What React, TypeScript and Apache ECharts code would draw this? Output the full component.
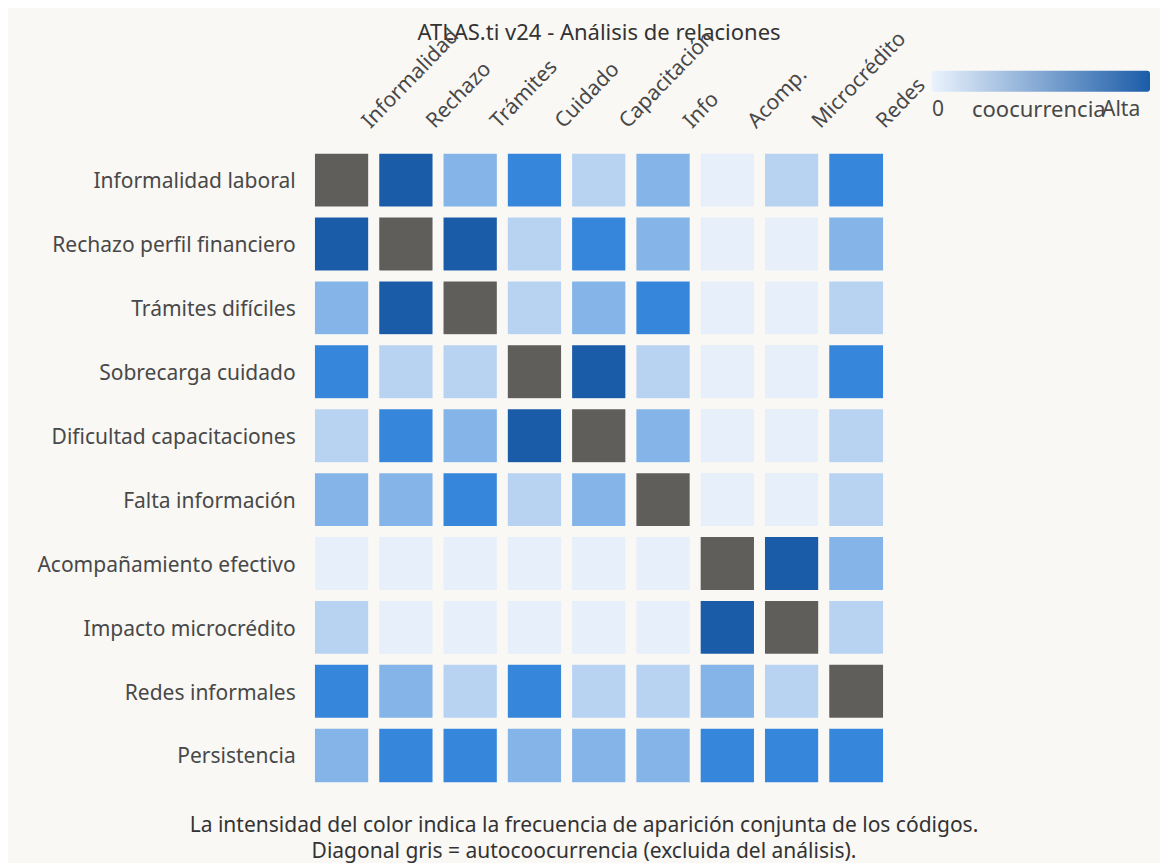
import React, { useEffect, useRef } from "react";
import * as echarts from "echarts";

const columns = ["Informalidad", "Rechazo", "Trámites", "Cuidado", "Capacitación", "Info", "Acomp.", "Microcrédito", "Redes"];
const rows = [
  "Informalidad laboral",
  "Rechazo perfil financiero",
  "Trámites difíciles",
  "Sobrecarga cuidado",
  "Dificultad capacitaciones",
  "Falta información",
  "Acompañamiento efectivo",
  "Impacto microcrédito",
  "Redes informales",
  "Persistencia",
];
// intensity levels 1 (baja) .. 5 (alta); 0 = diagonal (autocoocurrencia)
const levels: number[][] = [
  [0, 5, 3, 4, 2, 3, 1, 2, 4],
  [5, 0, 5, 2, 4, 3, 1, 1, 3],
  [3, 5, 0, 2, 3, 4, 1, 1, 2],
  [4, 2, 2, 0, 5, 2, 1, 1, 4],
  [2, 4, 3, 5, 0, 3, 1, 1, 2],
  [3, 3, 4, 2, 3, 0, 1, 1, 2],
  [1, 1, 1, 1, 1, 1, 0, 5, 3],
  [2, 1, 1, 1, 1, 1, 5, 0, 2],
  [4, 3, 2, 4, 2, 2, 3, 2, 0],
  [3, 4, 4, 3, 3, 3, 4, 4, 4],
];
const levelColors = ["#e6effa", "#b8d3f2", "#85b4e8", "#3687dc", "#1b5ca8"];
const diagColor = "#5f5e5a";
const titleText = "ATLAS.ti v24 - Análisis de relaciones";
const footer1 = "La intensidad del color indica la frecuencia de aparición conjunta de los códigos.";
const footer2 = "Diagonal gris = autocoocurrencia (excluida del análisis).";

const FONT = "'Noto Sans', sans-serif";
const BG = "#f9f8f5";

export default function App() {
  const ref = useRef<HTMLDivElement>(null);
  useEffect(() => {
    document.body.style.overflow = "hidden";
    const chart = echarts.init(ref.current!, undefined, { renderer: "svg" });
    const cells: number[][] = [];
    levels.forEach((r, ri) => r.forEach((v, ci) => cells.push([ci, ri, v])));
    chart.setOption({
      animation: false,
      backgroundColor: BG,
      textStyle: { fontFamily: FONT },
      grid: { left: 301.7, top: 140.4, width: 578.6, height: 639 },
      xAxis: {
        type: "category",
        position: "top",
        data: columns,
        axisLine: { show: false },
        axisTick: { show: false },
        splitLine: { show: false },
        axisLabel: { rotate: -46, margin: 1, padding: [0, 0, 0, 33], fontSize: 21, color: "#484848", fontFamily: FONT },
      },
      yAxis: {
        type: "category",
        inverse: true,
        data: rows,
        axisLine: { show: false },
        axisTick: { show: false },
        splitLine: { show: false },
        axisLabel: { margin: 14, fontSize: 21, color: "#484848", fontFamily: FONT },
      },
      visualMap: {
        type: "piecewise",
        show: false,
        dimension: 2,
        pieces: [{ value: 0, color: diagColor }].concat(levelColors.map((c, i) => ({ value: i + 1, color: c }))),
      },
      series: [
        {
          type: "heatmap",
          data: cells,
          itemStyle: { borderColor: BG, borderWidth: 11 },
          emphasis: { disabled: true },
        },
      ],
      graphic: [
        {
          type: "text",
          x: 591,
          y: 23,
          style: { text: titleText, fontSize: 22, fill: "#333", fontFamily: FONT, align: "center", verticalAlign: "middle" },
        },
        {
          type: "rect",
          shape: { x: 923.7, y: 62.7, width: 218.3, height: 21, r: 3 },
          style: {
            fill: new echarts.graphic.LinearGradient(0, 0, 1, 0, [
              { offset: 0, color: "#eaf3fd" },
              { offset: 1, color: "#1b5ca8" },
            ]),
          },
        },
        { type: "text", x: 930, y: 100.3, style: { text: "0", fontSize: 21, fill: "#484848", fontFamily: FONT, align: "center", verticalAlign: "middle" } },
        { type: "text", x: 964, y: 100.3, style: { text: "coocurrencia", fontSize: 22, fill: "#484848", fontFamily: FONT, align: "left", verticalAlign: "middle" } },
        { type: "text", x: 1094, y: 100.3, style: { text: "Alta", fontSize: 21, fill: "#484848", fontFamily: FONT, align: "left", verticalAlign: "middle" } },
        { type: "text", x: 576, y: 816, style: { text: footer1, fontSize: 21, fill: "#333", fontFamily: FONT, align: "center", verticalAlign: "middle" } },
        { type: "text", x: 576, y: 842, style: { text: footer2, fontSize: 21, fill: "#333", fontFamily: FONT, align: "center", verticalAlign: "middle" } },
      ],
    });
    return () => chart.dispose();
  }, []);
  return <div ref={ref} style={{ width: 1152, height: 855 }} />;
}
